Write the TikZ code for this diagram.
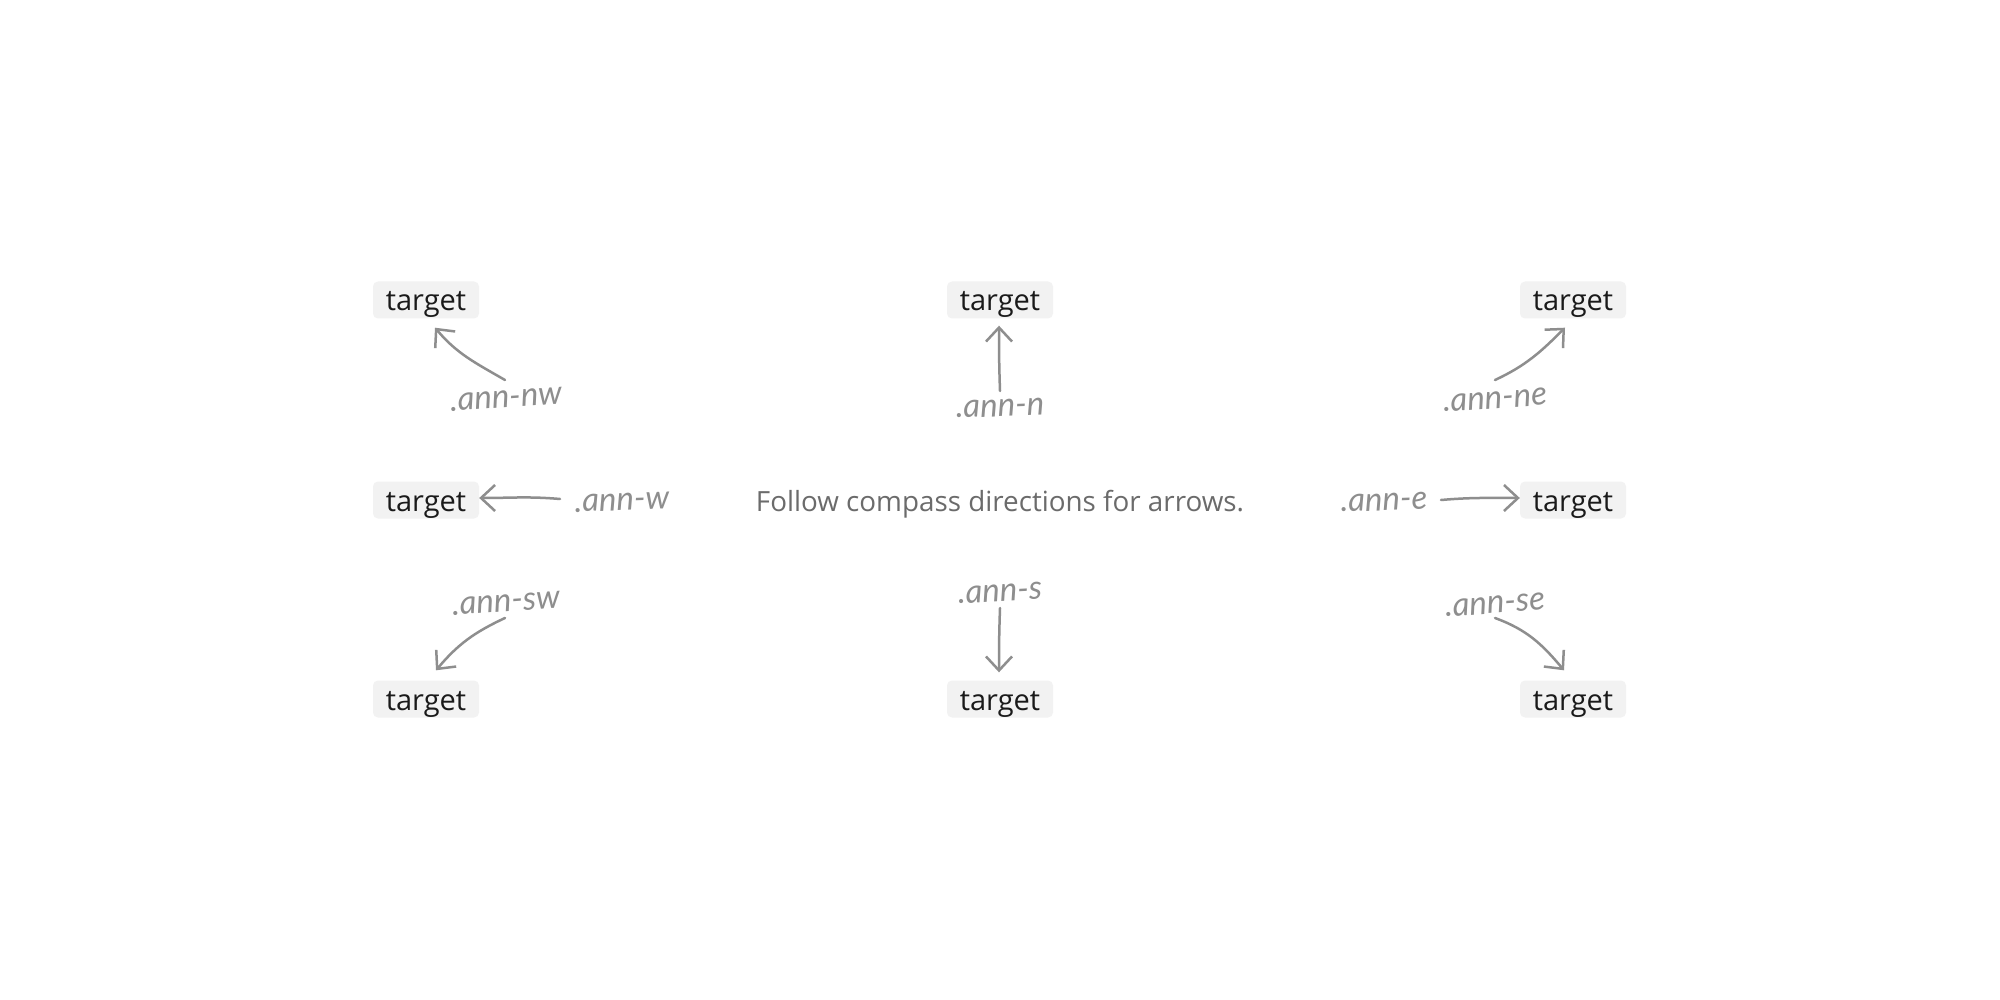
\documentclass[tikz,border=0pt]{standalone}
\usepackage{fontspec}
\setmainfont{Open Sans}
\newfontfamily\handfont{Lato}
\usetikzlibrary{arrows.meta,calc}
\definecolor{boxfill}{HTML}{F2F2F2}
\definecolor{tgttext}{HTML}{1A1A1A}
\definecolor{anngray}{HTML}{8E8E8E}
\definecolor{captgray}{HTML}{6B6B6B}
\tikzset{
  tgt/.style={fill=boxfill, rounded corners=5pt, minimum width=106pt, minimum height=37pt, inner sep=0pt, text height=26pt, text depth=4pt, text=tgttext, font=\fontsize{29}{34}\selectfont},
  annlabel/.style={text=anngray, inner sep=0pt, font=\handfont\itshape\fontsize{33}{38}\selectfont},
  annarrow/.style={draw=anngray, line width=2.5pt, line cap=round, -{Straight Barb[length=14pt,width=26pt,line width=2.5pt]}},
}
\begin{document}
\begin{tikzpicture}[x=1pt,y=-1pt]
\useasboundingbox (0,0) rectangle (2000,1000);
\fill[white] (0,0) rectangle (2000,1000);
% targets
\node[tgt] (tnw) at (426,300) {target};
\node[tgt] (tn)  at (1000,300) {target};
\node[tgt] (tne) at (1573,300) {target};
\node[tgt] (tw)  at (426,500) {target};
\node[tgt] (te)  at (1573,500) {target};
\node[tgt] (tsw) at (426,699) {target};
\node[tgt] (ts)  at (1000,699) {target};
\node[tgt] (tse) at (1573,699) {target};
% caption
\node[text=captgray, inner sep=0pt, font=\fontsize{27.8}{33}\selectfont] (cap) at (1000,504) {Follow compass directions for arrows.};
% labels
\node[annlabel, rotate=4] (lnw) at (506,399) {.ann-nw};
\node[annlabel, rotate=2] (ln)  at (1000,408) {.ann-n};
\node[annlabel, rotate=4] (lne) at (1495,400) {.ann-ne};
\node[annlabel, rotate=2] (lw)  at (622,502) {.ann-w};
\node[annlabel, rotate=2] (le)  at (1384,502) {.ann-e};
\node[annlabel, rotate=4] (lsw) at (506,603) {.ann-sw};
\node[annlabel, rotate=3] (ls)  at (1000,593) {.ann-s};
\node[annlabel, rotate=4] (lse) at (1495,605) {.ann-se};
% arrow start points
\coordinate (snw) at (505,380);
\coordinate (sn)  at (1000,391);
\coordinate (sne) at (1495,380);
\coordinate (sw)  at (560,499);
\coordinate (se)  at (1441,500);
\coordinate (ssw) at (505,618);
\coordinate (ss)  at (1000,608);
\coordinate (sse) at (1495,618);
% arrows
\draw[annarrow] (snw) to[out=150,in=-50] ($(tnw.south)+(9,9)$);
\draw[annarrow] (sn) to[out=92,in=-90] ($(tn.south)+(-1,7)$);
\draw[annarrow] (sne) to[out=25,in=-135] ($(tne.south)+(-8,9)$);
\draw[annarrow] (sw) to[out=175,in=0] ($(tw.east)+(0,-2)$);
\draw[annarrow] (se) to[out=5,in=180] ($(te.west)+(0,-2)$);
\draw[annarrow] (ssw) to[out=205,in=50] ($(tsw.north)+(10,-10)$);
\draw[annarrow] (ss) to[out=-92,in=90] ($(ts.north)+(-1,-8)$);
\draw[annarrow] (sse) to[out=-20,in=130] ($(tse.north)+(-9,-10)$);
\end{tikzpicture}
\end{document}
